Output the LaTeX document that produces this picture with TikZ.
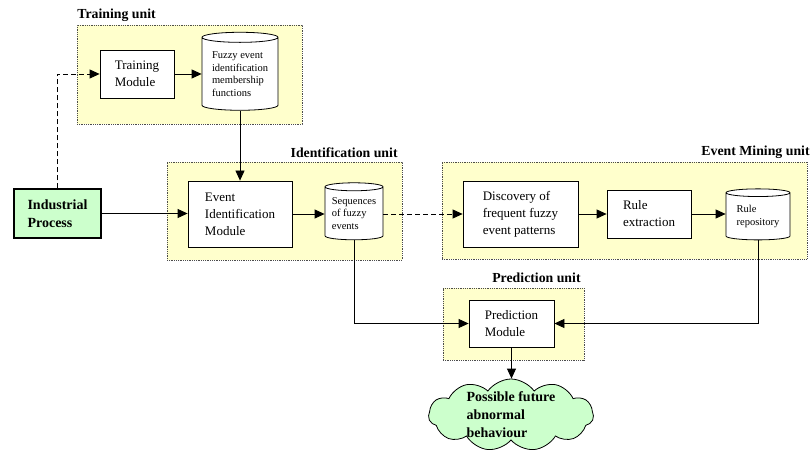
\documentclass[tikz,border=0pt]{standalone}
\usepackage{fontspec}
\setmainfont{Liberation Serif}
\usepackage{tikz}
\usetikzlibrary{arrows.meta,shapes.geometric,shapes.symbols}
\definecolor{unitfill}{RGB}{255,255,204}
\definecolor{procfill}{RGB}{204,255,204}

\begin{document}
\begin{tikzpicture}[x=1pt,y=-1pt,line width=0.8pt]
	\tikzstyle{unitbox}=[draw=black!70,densely dotted,fill=unitfill,inner sep=0pt];
	\tikzstyle{unitname}=[font=\fontsize{13.8}{16}\selectfont\bfseries,inner sep=0pt];
	\tikzstyle{module}=[draw,fill=white,align=left,inner sep=0pt,font=\fontsize{13}{17}\selectfont];
	\tikzstyle{store}=[draw,fill=white,cylinder,shape border rotate=90,aspect=0.18,align=left,inner sep=0pt,font=\fontsize{10.5}{12.5}\selectfont];
	\tikzstyle{arr}=[-{Triangle[length=10pt,width=9pt]}];
	\tikzstyle{flowdash}=[dash pattern=on 5pt off 3pt];
%<--------------------------------------------------------------------------->%
	\useasboundingbox (0,0) rectangle (811,457);
	%% units
	\node[unitbox,minimum width=225,minimum height=99] (trainunit) at (189.5,74.5) {};
	\node[unitname,anchor=west] (trainname) at (77,15) {Training unit};
	\node[unitbox,minimum width=235,minimum height=98] (identunit) at (284.5,211) {};
	\node[unitname,anchor=east] (identname) at (398,153) {Identification unit};
	\node[unitbox,minimum width=365,minimum height=97] (mineunit) at (624.5,210.5) {};
	\node[unitname,anchor=east] (minename) at (810,152) {Event Mining unit};
	\node[unitbox,minimum width=141,minimum height=72] (predunit) at (513.5,324) {};
	\node[unitname,anchor=east] (predname) at (581,278) {Prediction unit};
	%% modules
	\node[module,minimum width=74,minimum height=48] (train) at (137,74) {Training\\Module};
	\node[store,minimum width=76,minimum height=78] (membership) at (240,74) {Fuzzy event\\identification\\membership\\functions};
	\node[draw,line width=1.2pt,fill=procfill,minimum width=87,minimum height=49,align=left,font=\fontsize{14}{18}\selectfont\bfseries] (process) at (57.5,213.5) {Industrial\\Process};
	\node[module,minimum width=104,minimum height=66] (ident) at (240,214) {Event\\Identification\\Module};
	\node[store,minimum width=58,minimum height=57] (sequences) at (354,213.5) {Sequences\\of fuzzy\\events};
	\node[module,minimum width=115,minimum height=66] (discovery) at (520.5,214) {Discovery of\\frequent fuzzy\\event patterns};
	\node[module,minimum width=84,minimum height=48] (rule) at (649,214) {Rule\\extraction};
	\node[store,minimum width=64,minimum height=51] (repository) at (758,216.5) {Rule\\repository};
	\node[module,minimum width=85,minimum height=47] (predict) at (511.5,323.5) {Prediction\\Module};
	%% outcome
	\node[cloud,cloud puffs=11,cloud puff arc=110,cloud ignores aspect,draw,fill=procfill,inner sep=0pt,minimum width=165,minimum height=72] (future) at (511,415) {};
	\node[align=left,inner sep=0pt,font=\fontsize{14}{18}\selectfont\bfseries] (futuretext) at (future.center) {Possible future\\abnormal\\behaviour};
	%% flows
	\draw[arr,flowdash] (process.north) |- (train.west);
	\draw[arr] (train) -- (membership);
	\draw[arr] (membership.south) -- (ident.north);
	\draw[arr] (process.east) -- (process.east -| ident.west);
	\draw[arr] (ident.east) -- (ident.east -| sequences.west);
	\draw[arr,flowdash] (sequences.east |- ident.east) -- (discovery.west);
	\draw[arr] (discovery) -- (rule);
	\draw[arr] (rule.east) -- (rule.east -| repository.west);
	\draw[arr] (sequences.south) |- (predict.west);
	\draw[arr] (repository.south) |- (predict.east);
	\draw[arr] (predict.south) -- (predict.south |- future.north);
\end{tikzpicture}
\end{document}
